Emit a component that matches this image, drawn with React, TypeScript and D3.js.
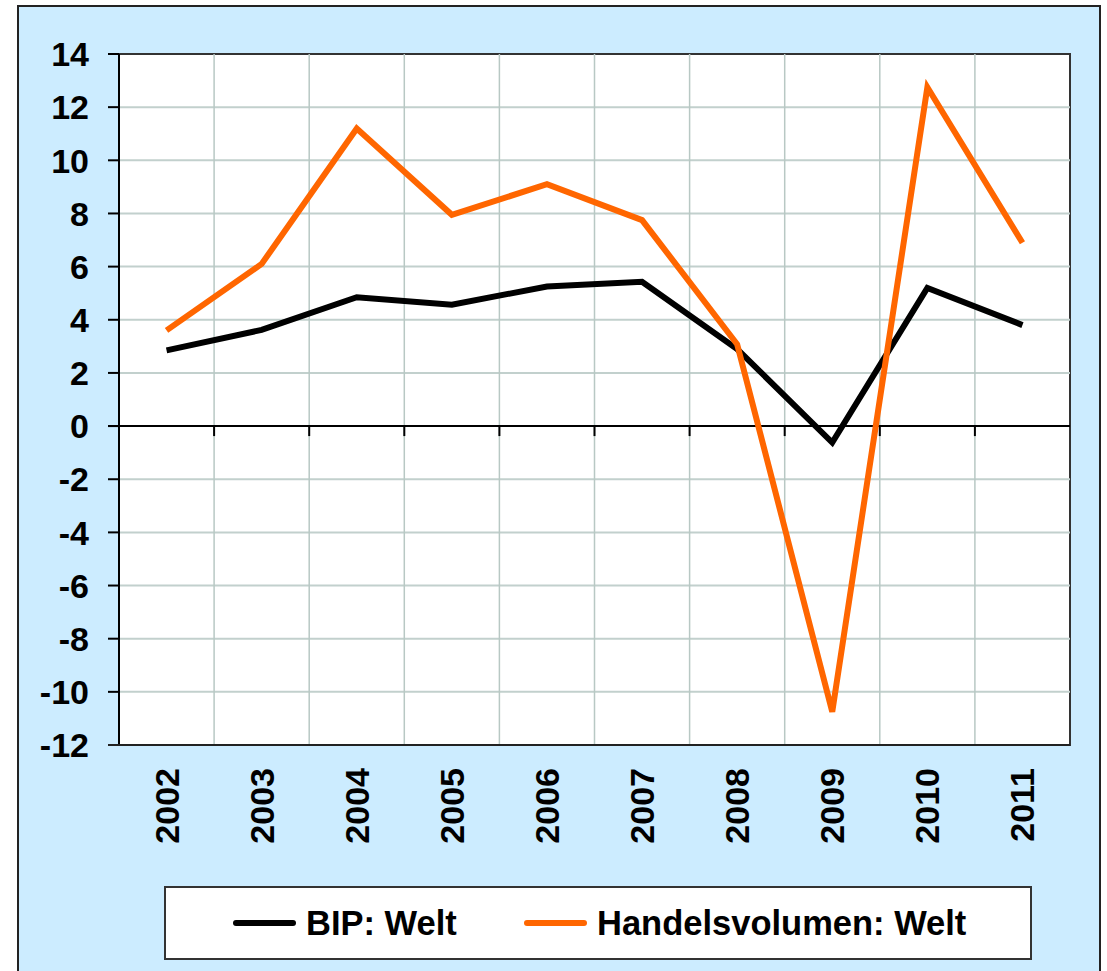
import React, { useRef, useEffect } from 'react';
import * as d3 from 'd3';

const years = ['2002', '2003', '2004', '2005', '2006', '2007', '2008', '2009', '2010', '2011'];
const bipWelt = [2.85, 3.62, 4.85, 4.57, 5.25, 5.43, 2.9, -0.62, 5.2, 3.8];
const handelWelt = [3.6, 6.1, 11.2, 7.95, 9.1, 7.75, 3.08, -10.75, 12.75, 6.9];
const yTicks = [-12, -10, -8, -6, -4, -2, 0, 2, 4, 6, 8, 10, 12, 14];

const FONT = "'Liberation Sans', Arial, sans-serif";

function App() {
  const svgRef = useRef<SVGSVGElement>(null);

  useEffect(() => {
    const width = 1107;
    const height = 971;
    const left = 119;
    const right = 1070;
    const top = 54;
    const bottom = 745;

    const svg = d3.select(svgRef.current);
    svg.selectAll('*').remove();

    // outer panel
    svg.append('rect')
      .attr('x', 18).attr('y', 6)
      .attr('width', 1082).attr('height', 1000)
      .attr('fill', '#CCECFF')
      .attr('stroke', '#222').attr('stroke-width', 2);

    const x = d3.scaleBand().domain(years).range([left, right]).padding(0);
    const y = d3.scaleLinear().domain([-12, 14]).range([bottom, top]);
    const cx = (d: string) => (x(d) as number) + x.bandwidth() / 2;

    // plot area
    svg.append('rect')
      .attr('x', left).attr('y', top)
      .attr('width', right - left).attr('height', bottom - top)
      .attr('fill', '#fff')
      .attr('stroke', '#333').attr('stroke-width', 2);

    // grid
    svg.append('g')
      .selectAll('line')
      .data(yTicks.filter(t => t !== 0 && t !== 14 && t !== -12))
      .join('line')
      .attr('x1', left).attr('x2', right)
      .attr('y1', d => y(d)).attr('y2', d => y(d))
      .attr('stroke', '#c2d0cd').attr('stroke-width', 2);

    svg.append('g')
      .selectAll('line')
      .data(years.slice(1))
      .join('line')
      .attr('x1', d => x(d) as number).attr('x2', d => x(d) as number)
      .attr('y1', top).attr('y2', bottom)
      .attr('stroke', '#b8c8c4').attr('stroke-width', 1.5);

    // y axis
    const yAxis = svg.append('g');
    yAxis.append('line')
      .attr('x1', left).attr('x2', left)
      .attr('y1', top).attr('y2', bottom)
      .attr('stroke', '#000').attr('stroke-width', 2);
    yAxis.selectAll('line.tick')
      .data(yTicks)
      .join('line')
      .attr('class', 'tick')
      .attr('x1', 108).attr('x2', left)
      .attr('y1', d => y(d)).attr('y2', d => y(d))
      .attr('stroke', '#000').attr('stroke-width', 2);
    yAxis.selectAll('text')
      .data(yTicks)
      .join('text')
      .attr('x', 89)
      .attr('y', d => y(d))
      .attr('dy', '0.36em')
      .attr('text-anchor', 'end')
      .attr('font-family', FONT)
      .attr('font-weight', 'bold')
      .attr('font-size', 34)
      .attr('fill', '#000')
      .text(d => String(d));

    // bottom border extends to the tick
    svg.append('line')
      .attr('x1', 108).attr('x2', right)
      .attr('y1', bottom).attr('y2', bottom)
      .attr('stroke', '#222').attr('stroke-width', 2);

    // zero line with category ticks
    svg.append('line')
      .attr('x1', 108).attr('x2', right)
      .attr('y1', y(0)).attr('y2', y(0))
      .attr('stroke', '#000').attr('stroke-width', 2);
    svg.append('g')
      .selectAll('line')
      .data(years.slice(1))
      .join('line')
      .attr('x1', d => x(d) as number).attr('x2', d => x(d) as number)
      .attr('y1', y(0)).attr('y2', y(0) + 10)
      .attr('stroke', '#000').attr('stroke-width', 2);

    // year labels
    svg.append('g')
      .selectAll('text')
      .data(years)
      .join('text')
      .attr('transform', d => `translate(${cx(d) + 12},768) rotate(-90)`)
      .attr('text-anchor', 'end')
      .attr('font-family', FONT)
      .attr('font-weight', 'bold')
      .attr('font-size', 34)
      .attr('fill', '#000')
      .text(d => d);

    // lines
    const line = d3.line<number>()
      .x((_, i) => cx(years[i]))
      .y(d => y(d));

    svg.append('path')
      .datum(bipWelt)
      .attr('d', line)
      .attr('fill', 'none')
      .attr('stroke', '#000')
      .attr('stroke-width', 6)
      .attr('stroke-linejoin', 'miter');

    svg.append('path')
      .datum(handelWelt)
      .attr('d', line)
      .attr('fill', 'none')
      .attr('stroke', '#FF6600')
      .attr('stroke-width', 6)
      .attr('stroke-linejoin', 'miter');

    // legend
    const legend = svg.append('g');
    legend.append('rect')
      .attr('x', 165).attr('y', 887)
      .attr('width', 866).attr('height', 72)
      .attr('fill', '#fff')
      .attr('stroke', '#333').attr('stroke-width', 2);

    const items = [
      { label: 'BIP: Welt', color: '#000', x0: 236, tx: 306 },
      { label: 'Handelsvolumen: Welt', color: '#FF6600', x0: 527, tx: 597 },
    ];
    items.forEach(it => {
      legend.append('line')
        .attr('x1', it.x0).attr('x2', it.x0 + 57)
        .attr('y1', 923).attr('y2', 923)
        .attr('stroke', it.color).attr('stroke-width', 6)
        .attr('stroke-linecap', 'round');
      legend.append('text')
        .attr('x', it.tx).attr('y', 935)
        .attr('font-family', FONT)
        .attr('font-weight', 'bold')
        .attr('font-size', 34.5)
        .attr('fill', '#000')
        .text(it.label);
    });

    svg.attr('width', width).attr('height', height);
  }, []);

  return (
    <svg
      ref={svgRef}
      width={1107}
      height={971}
      style={{ position: 'absolute', left: 0, top: 0, display: 'block' }}
    />
  );
}

export default App;
